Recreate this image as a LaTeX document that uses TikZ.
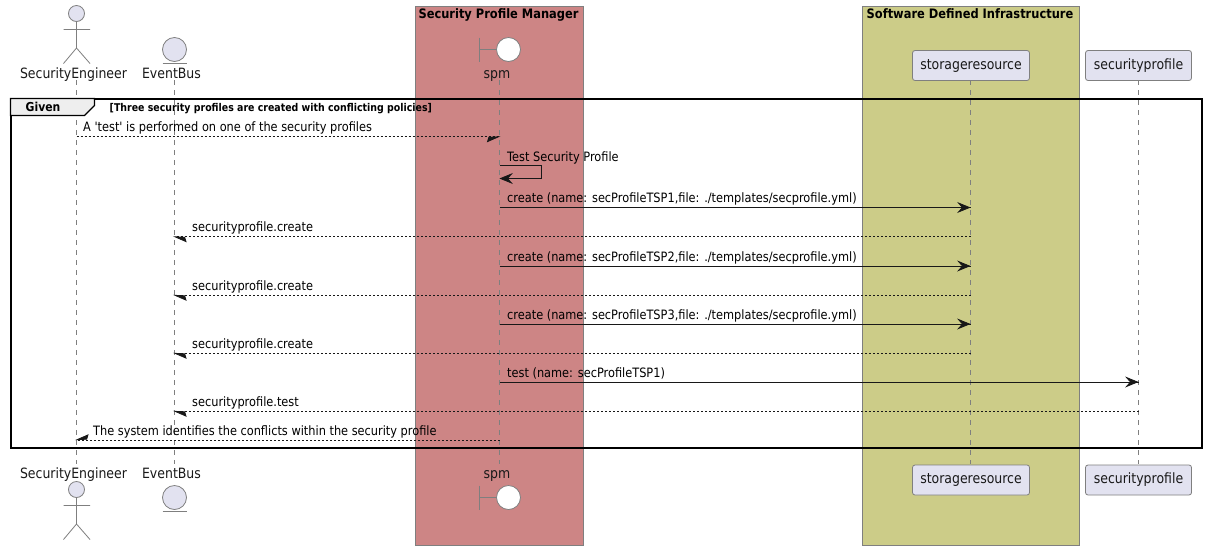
\documentclass[tikz,border=0pt]{standalone}
\usepackage{fontspec}
\newfontfamily\djv[FakeStretch=.88]{DejaVu Sans}
\definecolor{partfill}{HTML}{E2E2F0}
\definecolor{partline}{HTML}{7F7F7F}
\definecolor{redbox}{HTML}{CD8585}
\definecolor{olivebox}{HTML}{CCCC88}
\definecolor{darkline}{HTML}{181818}
\definecolor{tabfill}{HTML}{EEEEEE}
\tikzset{
  x=1pt,y=-1pt,
  boxarea/.style={draw=partline,line width=1pt},
  boxtitle/.style={inner sep=0pt,anchor=base,font=\djv\bfseries\fontsize{13}{15}\selectfont},
  partlabel/.style={inner sep=0pt,anchor=base,text=black!90,font=\djv\fontsize{14.2}{16}\selectfont},
  partbox/.style={draw=partline,fill=partfill,rounded corners=2.5pt,line width=.8pt,inner sep=0pt,minimum height=30pt,font=\djv\fontsize{14.2}{16}\selectfont,text=black!90},
  lifeline/.style={draw=partline,line width=.8pt,dash pattern=on 5pt off 5pt},
  msg/.style={inner sep=0pt,anchor=base west,font=\djv\fontsize{12.9}{14}\selectfont,text=black},
  solidmsg/.style={draw=darkline,line width=1pt},
  dashmsg/.style={draw=darkline,line width=.9pt,dash pattern=on 2pt off 2pt},
  arrowhead/.style={fill=darkline,draw=darkline,line width=.8pt,line join=miter},
  shapeline/.style={draw=partline,line width=.8pt},
}
\begin{document}
\begin{tikzpicture}
\useasboundingbox (0,0) rectangle (1206,550);
\fill[white] (0,0) rectangle (1206,550);
% boxes
\path[boxarea,fill=redbox] (415.5,6.5) rectangle (583.5,545.5);
\path[boxarea,fill=olivebox] (862.5,6.5) rectangle (1079.5,545.5);
\node[boxtitle] (tred) at (498.5,18) {Security Profile Manager};
\node[boxtitle] (tolive) at (970,18) {Software Defined Infrastructure};
% life lines
\coordinate (seT) at (76.5,80); \coordinate (seB) at (76.5,464);
\coordinate (ebT) at (174.5,80); \coordinate (ebB) at (174.5,464);
\coordinate (spT) at (499.5,80); \coordinate (spB) at (499.5,464);
\coordinate (srT) at (970.5,80); \coordinate (srB) at (970.5,464);
\coordinate (pfT) at (1138.5,80); \coordinate (pfB) at (1138.5,464);
\foreach \n in {se,eb,sp,sr,pf} \draw[lifeline] (\n T) -- (\n B);
% participants
\node[partbox,minimum width=117pt] (srtop) at (971,65.5) {storageresource};
\node[partbox,minimum width=106pt] (pftop) at (1138.5,65.5) {securityprofile};
\node[partbox,minimum width=117pt] (srbot) at (971,480) {storageresource};
\node[partbox,minimum width=106pt] (pfbot) at (1138.5,480) {securityprofile};
\node[partlabel] (selt) at (73.5,78) {SecurityEngineer};
\node[partlabel] (ebl) at (171.5,78) {EventBus};
\node[partlabel] (spl) at (497,78) {spm};
\node[partlabel] (selb) at (73.5,478) {SecurityEngineer};
\node[partlabel] (eblb) at (171.5,478) {EventBus};
\node[partlabel] (splb) at (497,478) {spm};
% actor
\foreach \dy in {0,476} {
  \begin{scope}[yshift=-\dy pt]
    \draw[shapeline,fill=partfill] (76.5,13.5) circle (8pt);
    \draw[shapeline] (76.5,21.5) -- (76.5,48) (63.5,29.5) -- (90,29.5) (63.5,63.5) -- (76.5,48) -- (90,63.5);
  \end{scope}
}
\foreach \dy in {0,448} {
  \begin{scope}[yshift=-\dy pt]
    \draw[shapeline,fill=partfill] (174.5,49.5) circle (12pt);
    \draw[shapeline] (162.5,63.5) -- (186.5,63.5);
    \draw[shapeline,fill=white] (508.5,49.5) circle (12pt);
    \draw[shapeline] (479.5,37.5) -- (479.5,61.5) (479.5,49.5) -- (496.5,49.5);
  \end{scope}
}
% group frame
\draw[black,line width=2pt] (10.5,98.5) rectangle (1201.5,448);
\draw[black,line width=1.2pt,fill=tabfill] (10.5,98.5) -- (94.5,98.5) -- (94.5,105.5) -- (84.5,115.5) -- (10.5,115.5) -- cycle;
\node[inner sep=0pt,anchor=base,font=\djv\bfseries\fontsize{12.3}{14}\selectfont] (gl) at (43,111) {Given};
\node[inner sep=0pt,anchor=base west,font=\djv\bfseries\fontsize{10.7}{12}\selectfont] (gt) at (109.5,111) {[Three security profiles are created with conflicting policies]};
% messages
\draw[dashmsg] (seT |- 0,136.5) -- (spT |- 0,136.5);
\filldraw[arrowhead] (498.5,136.8) -- (487.5,141.6) -- (488.8,137.3) -- cycle;
\node[msg] at (83,131) {A 'test' is performed on one of the security profiles};
\draw[solidmsg] (499.5,165.5) -- (541.5,165.5) -- (541.5,178.5) -- (501,178.5);
\filldraw[arrowhead] (500.5,178.5) -- (511.5,174) -- (507.5,178.5) -- (511.5,183) -- cycle;
\node[msg] at (507,161) {Test Security Profile};
\foreach \y/\n in {207.5/1,266/2,324/3} {
  \draw[solidmsg] (spT |- 0,\y) -- (srT |- 0,\y);
  \filldraw[arrowhead] (969.5,\y) -- (958.5,\y-4.5) -- (962.5,\y) -- (958.5,\y+4.5) -- cycle;
  \node[msg] at (507,\y-5) {create (name: secProfileTSP\n,file: ./templates/secprofile.yml)};
}
\foreach \y in {236.5,295,353} {
  \draw[dashmsg] (srT |- 0,\y) -- (ebT |- 0,\y);
  \filldraw[arrowhead] (175,\y+.3) -- (186,\y+5.1) -- (184.7,\y+.8) -- cycle;
  \node[msg] at (192,\y-5) {securityprofile.create};
}
\draw[solidmsg] (spT |- 0,382) -- (pfT |- 0,382);
\filldraw[arrowhead] (1137.5,382) -- (1126.5,377.5) -- (1130.5,382) -- (1126.5,386.5) -- cycle;
\node[msg] at (507,377) {test (name: secProfileTSP1)};
\draw[dashmsg] (pfT |- 0,411) -- (ebT |- 0,411);
\filldraw[arrowhead] (175,411.3) -- (186,416.1) -- (184.7,411.8) -- cycle;
\node[msg] at (192,406) {securityprofile.test};
\draw[dashmsg] (spT |- 0,440) -- (seT |- 0,440);
\filldraw[arrowhead] (77,439.7) -- (88,434.9) -- (86.7,439.2) -- cycle;
\node[msg] at (93,435) {The system identifies the conflicts within the security profile};
\end{tikzpicture}
\end{document}
